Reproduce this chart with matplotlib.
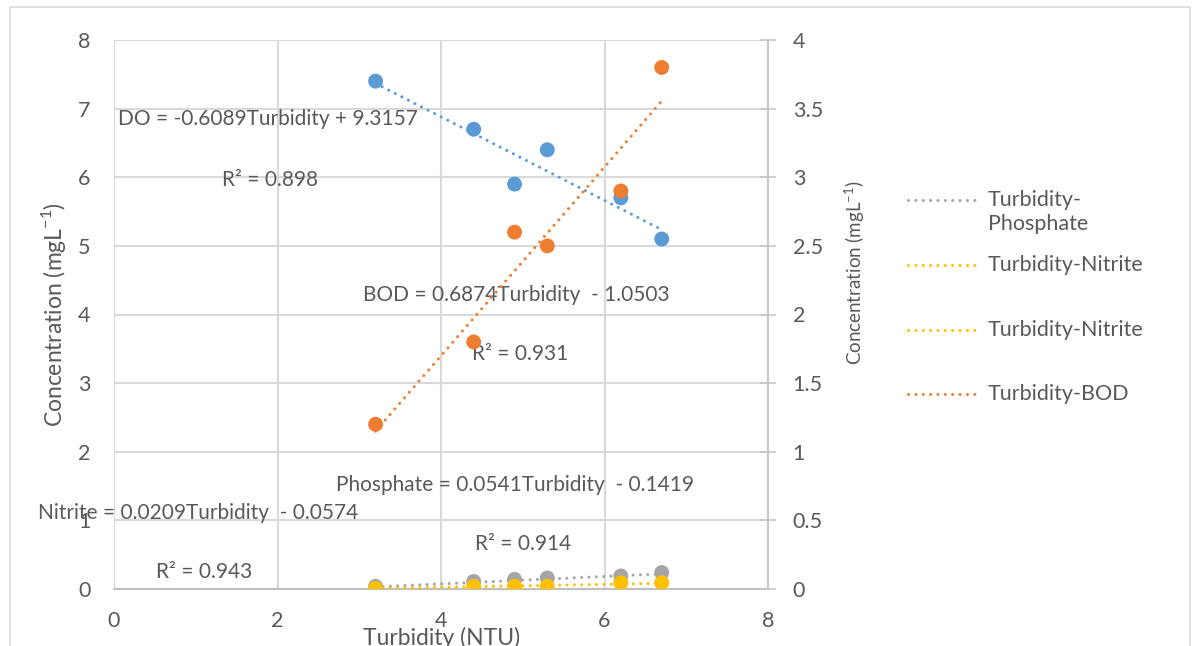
import matplotlib
matplotlib.use("Agg")
import matplotlib.pyplot as plt
import numpy as np
from matplotlib.lines import Line2D
from matplotlib.patches import Rectangle

plt.rcParams['font.family'] = ['Lato', 'DejaVu Sans']

# Measured samples
turbidity = [3.2, 4.4, 4.9, 5.3, 6.2, 6.7]
do_vals = [7.4, 6.7, 5.9, 6.4, 5.7, 5.1]
bod_vals = [1.2, 1.8, 2.6, 2.5, 2.9, 3.8]
phosphate_vals = [0.04, 0.11, 0.14, 0.16, 0.19, 0.24]
nitrite_vals = [0.01, 0.04, 0.04, 0.04, 0.09, 0.09]

# Linear trend coefficients (slope, intercept) and R² values
do_fit = (-0.6089, 9.3157)
bod_fit = (0.6874, -1.0503)
phosphate_fit = (0.0541, -0.1419)
nitrite_fit = (0.0209, -0.0574)
r2_do, r2_bod, r2_phos, r2_nit = 0.898, 0.931, 0.914, 0.943

x_ticks = [0, 2, 4, 6, 8]
left_ticks = [0, 1, 2, 3, 4, 5, 6, 7, 8]
right_ticks = [0, 0.5, 1, 1.5, 2, 2.5, 3, 3.5, 4]

BLUE = '#5B9BD5'
ORANGE = '#ED7D31'
GRAY = '#A5A5A5'
YELLOW = '#FFC000'
TXT = '#595959'
GRID = '#D9D9D9'

W, H = 1194, 646
fig = plt.figure(figsize=(W / 100, H / 100), dpi=100)
fig.patch.set_facecolor('white')
fig.add_artist(Rectangle((10 / W, -0.05), (1190 - 10) / W, 1 - 7 / H + 0.05,
                         transform=fig.transFigure, fill=False,
                         edgecolor=GRID, lw=1.2))

x0, x1, y_top, y_bot = 114, 768, 40, 589
ax = fig.add_axes([x0 / W, 1 - y_bot / H, (x1 - x0) / W, (y_bot - y_top) / H])
ax2 = ax.twinx()

ax.set_xlim(0, 8)
ax.set_ylim(0, 8)
ax2.set_ylim(0, 4)

ax.set_xticks(x_ticks)
ax.set_yticks(left_ticks)
ax2.set_yticks(right_ticks)
ax.set_xticklabels([str(v) for v in x_ticks])
ax.set_yticklabels([str(v) for v in left_ticks])
ax2.set_yticklabels([f'{v:g}' for v in right_ticks])

ax.grid(True, color=GRID, lw=1.5)
ax.set_axisbelow(True)
for s in ['top', 'right', 'left']:
    ax.spines[s].set_visible(False)
ax.spines['bottom'].set_color('#BFBFBF')
ax.spines['bottom'].set_linewidth(1.5)
for s in ['top', 'left', 'bottom']:
    ax2.spines[s].set_visible(False)
ax2.spines['right'].set_color('#C8C8C8')
ax2.spines['right'].set_linewidth(1.5)

ax.tick_params(axis='both', length=0, colors=TXT, labelsize=15.5)
ax.tick_params(axis='y', pad=17)
ax.tick_params(axis='x', pad=16)
ax2.tick_params(axis='y', direction='inout', length=11.5, width=1.2,
                color='#C8C8C8', labelcolor=TXT, labelsize=15.5, pad=12)

ylab = r'Concentration (mgL$^{\mathregular{-1}}$)'
ax.set_ylabel(ylab, color=TXT, fontsize=16.5)
ax.yaxis.set_label_coords((68 - x0) / (x1 - x0), (y_bot - 315) / (y_bot - y_top))
ax2.set_ylabel(ylab, color=TXT, fontsize=13.5)
ax2.yaxis.set_label_coords((842 - x0) / (x1 - x0), (y_bot - 273) / (y_bot - y_top))
fig.text(442 / W, 1 - 638 / H, 'Turbidity (NTU)', ha='center', va='center',
         color=TXT, fontsize=16.5)

x_arr = np.array(turbidity)
xr = np.array([x_arr.min(), x_arr.max()])
dot = dict(lw=2.2, linestyle=(0, (0.01, 2.4)), dash_capstyle='round')

ms = 115
ax.scatter(turbidity, do_vals, s=ms, color=BLUE, zorder=3, edgecolors='none')
ax.plot(xr, do_fit[0] * xr + do_fit[1], color=BLUE, zorder=4, **dot)
ax.scatter(turbidity, phosphate_vals, s=ms, color=GRAY, zorder=3, edgecolors='none')
ax.plot(xr, phosphate_fit[0] * xr + phosphate_fit[1], color=GRAY, zorder=3.5, **dot)
ax.scatter(turbidity, nitrite_vals, s=ms, color=YELLOW, zorder=3.6, edgecolors='none')
ax.plot(xr, nitrite_fit[0] * xr + nitrite_fit[1], color=YELLOW, zorder=3.7, **dot)

ax2.scatter(turbidity, bod_vals, s=ms, color=ORANGE, zorder=3, edgecolors='none')
ax2.plot(xr, bod_fit[0] * xr + bod_fit[1], color=ORANGE, zorder=4, **dot)

def eq(name, fit):
    a, b = fit
    sign = '+ ' if b >= 0 else ' - '
    return f'{name} = {a:.4f}Turbidity {sign}{abs(b):.4f}'

lbl = dict(color=TXT, fontsize=15, ha='left', va='center', clip_on=False, zorder=6)
ax.text(0.05, 6.85, eq('DO', do_fit), **lbl)
ax.text(1.32, 5.96, f'R² = {r2_do}', **lbl)
ax.text(3.05, 4.29, eq('BOD', bod_fit), **lbl)
ax.text(4.375, 3.43, f'R² = {r2_bod}', **lbl)
ax.text(2.72, 1.52, eq('Phosphate', phosphate_fit), **lbl)
ax.text(-0.93, 1.11, eq('Nitrite', nitrite_fit), **lbl)
ax.text(4.42, 0.656, f'R² = {r2_phos}', **lbl)
ax.text(0.51, 0.243, f'R² = {r2_nit}', **lbl)

# Legend for the trend lines
legend_rows = [
    (GRAY, ['Turbidity-', 'Phosphate'], 200),
    (YELLOW, ['Turbidity-Nitrite'], 265),
    (YELLOW, ['Turbidity-Nitrite'], 330),
    (ORANGE, ['Turbidity-BOD'], 394),
]
for color, lines, ypx in legend_rows:
    fig.add_artist(Line2D([908 / W, 978 / W], [1 - ypx / H, 1 - ypx / H],
                          transform=fig.transFigure, color=color, **dot))
    for i, t in enumerate(lines):
        fig.text(988 / W, 1 - (ypx + 24 * i) / H, t, color=TXT, fontsize=15.5,
                 ha='left', va='center')

fig.savefig('out.png', dpi=100, facecolor='white')
